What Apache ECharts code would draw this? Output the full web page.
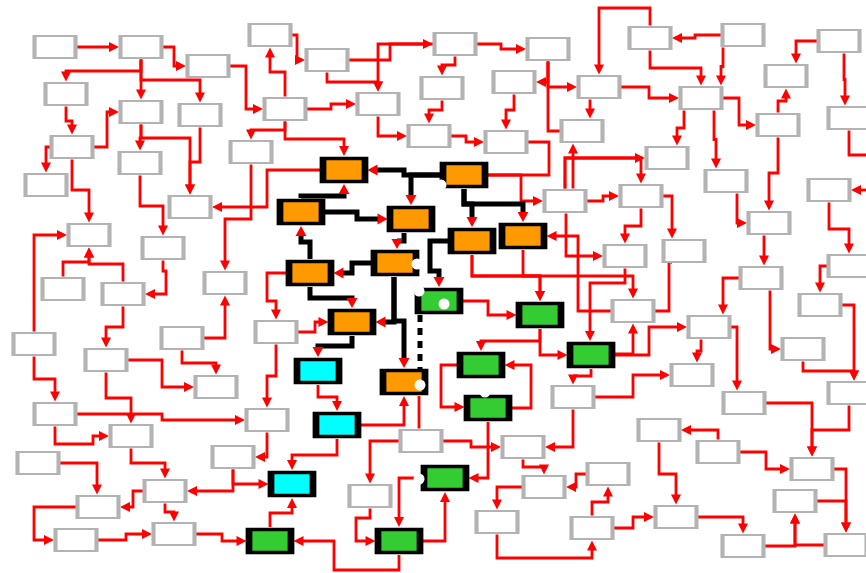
<!DOCTYPE html>
<html><head><meta charset="utf-8">
<script src="https://cdn.jsdelivr.net/npm/echarts@6/dist/echarts.min.js"></script>
<style>html,body{margin:0;padding:0;background:#fff}#c{width:866px;height:573px}</style>
</head><body><div id="c"></div>
<script>
// ---- node data ----
const nodeIds = ['G1','G2','G3','G4','G5','G6','G7','G8','G9','G10','G11','G12','G13','G14','G15','G16','G17','G18','G19','G20','G21','G22','G23','G24','G25','G26','G27','G28','G29','G30','G31','G32','G33','G34','G35','G36','G37','G38','G39','G40','G41','G42','G43','G44','G45','G46','G47','G48','G49','G50','G51','G52','G53','G54','G55','G56','G57','G58','G59','G60','G61','G62','G63','G64','G65','G66','G67','G68','G69','G70','G71','G72','G73','G74','G75','G76','G77','G78','G79','G80','G81',
 'O1','O2','O3','O4','O5','O6','O7','O8','O9','O10','N1','N2','N3','N4','N5','N6','N7','N8','C1','C2','C3','P1','P2'];
const nodeX = [55,141,208,270,327,455,548,650,743,839,66,141,200,285,378,442,514,599,701,786,849,72,140,251,429,506,582,667,778,46,190,565,641,726,829,89,163,225,625,684,769,849,63,123,761,34,182,276,633,709,820,106,216,692,803,849,55,267,573,131,421,523,659,744,38,233,718,812,165,370,544,608,98,497,592,676,795,76,174,743,846,
 344,464,301,411,472,523,395,310,352,404,439,540,591,481,488,445,270,399,318,337,292,895,895];
const nodeY = [47,47,66,35,60,44,49,38,35,41,94,112,115,109,104,88,82,87,98,76,118,147,163,152,136,142,131,158,125,185,207,201,196,181,190,235,248,283,256,251,223,266,289,294,278,344,338,332,311,327,305,360,387,375,349,393,414,420,397,436,441,447,430,403,463,457,452,469,491,496,487,474,507,522,528,517,501,540,534,546,545,
 170,175,212,219,241,236,263,273,322,382,301,315,355,365,408,478,541,541,371,425,484,155,190];
const nodeKind = 'ggggggggggggggggggggggggggggggggggggggggggggggggggggggggggggggggggggggggggggggggg' + 'oooooooooonnnnnnnnccc' + 'pp';

// ---- edges: [from, to, exit/entry sides, routing hints] ----
const redEdges = [
 ['G1','G2','RL'],['G2','G3','RL',{m:174}],['G2','G11','BT',{m:71}],['G2','G12','BT'],['G2','G13','BT',{m:80}],
 ['G11','G22','BT',{m:121}],['G22','G12','RL',{m:107}],['G22','G30','LT'],['G12','G23','BT',{m:138}],['G12','G31','BT',{m:138}],
 ['G13','G31','BT',{m:162}],['G22','G36','BT',{m:190}],['G23','G37','BT',{m:206}],['G4','G5','RL',{m:297}],['G14','G4','TB',{m:72}],
 ['G3','G14','RL',{m:246}],['G5','G6','RL',{m:390}],['G6','G15','LT'],['G5','G15','BT',{m:82}],['G14','G15','RL',{m:331}],
 ['G14','G24','BT',{m:130}],['G14','O1','BT',{m:139}],['G15','G25','BL'],['G24','G38','BT',{m:219}],['O1','G31','LR',{m:267}],
 ['G6','G7','RL',{m:501}],['G6','G16','BT',{m:65}],['G16','G25','BT',{m:110}],['G25','G26','RL',{m:466}],['G7','G17','BR'],
 ['G7','G18','BL'],['G7','G27','BL',{na:1}],['G17','G26','BT',{m:110}],['G18','G27','BT',{so:-9,to:8}],['G8','G18','TT',{m:8}],
 ['G8','G19','BT',{m:68}],['G9','G8','LR',{m:695}],['G9','G19','BT',{so:-20,to:20}],['G18','G19','RL',{m:649}],['G19','G29','RL',{m:739}],
 ['G19','G28','BT',{so:-17,to:10}],['G19','G34','BT',{so:13,to:-10}],['G29','G20','TB',{m:101}],['G10','G20','LT',{to:10}],['G10','G21','BT',{so:5,to:-4}],
 ['G21','P1','BL',{na:1}],['P2','G35','LR'],['G29','G41','BT',{m:173}],['G26','O2','RR',{m:549,na:1}],['O2','G32','RL',{m:521}],
 ['G32','G28','TL'],['G32','G33','TT',{m:158}],['G32','G27','TB',{so:8,to:-9}],['G32','G39','BL',{so:1}],['G32','G33','RL',{m:603}],
 ['G33','G39','BT',{m:226}],['G33','G40','RT',{to:-12}],['G49','G40','RL',{m:669,to:8}],['G34','G41','BL',{so:11}],['G41','G45','BT',{so:-5,to:3}],
 ['G45','G50','LT',{to:14}],['G45','G55','BL',{so:9}],['G35','G42','BT',{m:229}],['G42','G51','LT'],['G51','G56','RT',{to:5}],
 ['G55','G56','BT',{m:371,to:5}],['G50','G64','RT',{to:-7}],['G50','G54','BT',{so:-8,to:5}],['N3','G50','RL',{m:649}],['N3','G49','RB',{so:-1}],
 ['G59','G54','RL',{m:633}],['G67','G63','TR'],['G63','G76','BT',{m:474}],['G67','G68','RL',{m:766}],['G64','G68','RT'],
 ['G56','G68','BT',{m:430}],['G68','G81','RT'],['G77','G81','RT'],['G81','G77','LB'],['G80','G77','RB'],
 ['G76','G80','RT'],['G75','G76','RL',{m:633}],['G75','G72','TB',{m:502}],['G72','G71','LR',{m:576}],['G62','G71','BT',{m:467}],
 ['G71','G74','LT'],['G74','G75','BB',{m:558}],['N5','N6','BR'],['G61','G62','RL',{m:471}],['N5','N4','RR',{m:531}],
 ['G59','G62','BR'],['N2','N4','BT',{m:341}],['N2','N3','BL'],['N4','N5','LL',{m:441,to:-1}],['G61','O10','TB',{so:-2,to:15,na:1}],
 ['N6','N8','LT'],['N8','N6','RB'],['N8','N7','BR',{m:570,m2:334}],['N7','C3','TB',{m:513}],['G79','N7','RL',{m:222}],
 ['C2','C3','BT',{m:455}],['C2','O10','RB'],['C1','C2','BT',{m:397}],['G61','G70','LT'],['G70','N8','BL',{m:518,m2:356}],
 ['G48','G58','BT'],['G57','G58','RL',{m:162}],['G58','G66','BR'],['G66','C3','BL'],['G66','G69','BR'],
 ['G69','G73','LR',{m:133}],['G69','G79','BT',{m:512}],['G73','G78','LL',{m:34}],['G78','G79','RL',{m:126}],['G65','G73','RT',{to:-1}],
 ['G57','G60','BL',{m:444,m2:93}],['G60','G69','BT',{m:463}],['G52','G60','BT',{m:398}],['G46','G57','BT',{m:379}],['G52','G53','RL',{m:162}],
 ['G47','G53','BT',{m:363}],['G44','G52','BT',{m:327}],['G44','G36','TB',{m:264}],['G43','G36','TB',{m:262}],['G46','G36','TL'],
 ['G37','G44','BR',{m:271,m2:166}],['G47','G38','RB'],['G48','O9','RL',{m:315}],['O8','G48','LT',{m:267,m2:301}],
 ['O5','N2','BT',{m:276}],['O6','N2','BT',{m:276}],['O5','G49','BT',{m:276}],['G49','O6','LR',{m:578}],['N1','N2','RL',{m:488}],
 ['G39','N3','BT',{m:283,to:-1}],['N3','G59','BT',{m:376}]
];
const blackEdges = [
 ['O2','O1','LR',{m:404}],['O2','O4','LT'],['O3','O1','TB',{m:196}],['O3','O4','RL',{m:357}],['O4','O7','BT',{so:-7,to:2}],
 ['O7','O8','LR',{m:352}],['O8','O9','BT',{m:298}],['O8','O3','TB',{m:242}],['O7','O9','BR',{so:-1}],['O7','O10','BT',{m:321,so:-1}],
 ['O9','C1','BT',{m:346}],['O2','O5','BT',{m:204}],['O2','O6','BT',{m:204}],['O5','N1','LT',{m:430,m2:271}],
 ['N1','O10','BR',{so:-19,to:-8,dash:1}]
];
// white round marks drawn over the diagram
const whiteDotX = [441,417,419,444,420,485,419];
const whiteDotY = [185,264,291,304,385,392,479];

// ---- styles ----
const kindStyle = {
 g:{fill:'#ffffff',stroke:'#b3b3b3',bw:3,size:[41,22]},
 o:{fill:'#ff9900',stroke:'#000000',bw:5,size:[42,23]},
 n:{fill:'#33cc33',stroke:'#000000',bw:5,size:[42,23]},
 c:{fill:'#00ffff',stroke:'#000000',bw:5,size:[42,23]}
};
const nodes = {};
nodeIds.forEach((id,i)=>{nodes[id]={x:nodeX[i],y:nodeY[i],kind:nodeKind[i]};});

function side(n,s,off){
 const hw = n.kind==='g'?22:23.5, hh = n.kind==='g'?12.5:14;
 if(s==='R') return [n.x+hw,n.y+off];
 if(s==='L') return [n.x-hw,n.y+off];
 if(s==='T') return [n.x+off,n.y-hh];
 return [n.x+off,n.y+hh];
}
function route(e){
 const [f,t,sd,o0]=e; const o=o0||{};
 const a=nodes[f], b=nodes[t];
 const p0=side(a,sd[0],o.so||0), p3=side(b,sd[1],o.to||0);
 const h0='LR'.includes(sd[0]), h1='LR'.includes(sd[1]);
 if(h0&&h1){
  let m=o.m;
  if(m==null){ if(sd==='RR') m=Math.max(p0[0],p3[0])+12; else if(sd==='LL') m=Math.min(p0[0],p3[0])-12; else m=(p0[0]+p3[0])/2; }
  return [p0,[m,p0[1]],[m,p3[1]],p3];
 }
 if(!h0&&!h1){
  let m=o.m;
  if(m==null){ if(sd==='BB') m=Math.max(p0[1],p3[1])+12; else if(sd==='TT') m=Math.min(p0[1],p3[1])-12; else m=(p0[1]+p3[1])/2; }
  return [p0,[p0[0],m],[p3[0],m],p3];
 }
 if(h0){
  if(o.m!=null&&o.m2!=null) return [p0,[o.m,p0[1]],[o.m,o.m2],[p3[0],o.m2],p3];
  return [p0,[p3[0],p0[1]],p3];
 }
 if(o.m!=null&&o.m2!=null) return [p0,[p0[0],o.m],[o.m2,o.m],[o.m2,p3[1]],p3];
 return [p0,[p0[0],p3[1]],p3];
}
const allEdges = redEdges.map(e=>({e,black:false})).concat(blackEdges.map(e=>({e,black:true})));

function renderEdge(params, api){
 const item = allEdges[params.dataIndex];
 const o = item.e[3]||{};
 const raw = route(item.e).map(p=>api.coord(p));
 const pts=[raw[0]];
 for(let i=1;i<raw.length;i++){const q=pts[pts.length-1]; if(Math.abs(raw[i][0]-q[0])>0.01||Math.abs(raw[i][1]-q[1])>0.01) pts.push(raw[i]);}
 const children=[];
 const lw = item.black?5:2.8;
 const col = item.black?'#000000':'#ff0000';
 const dash = o.dash?[7,6]:null;
 if(!o.na && pts.length>=2){
  const tip=pts[pts.length-1], prev=pts[pts.length-2];
  let dx=tip[0]-prev[0], dy=tip[1]-prev[1]; const L=Math.hypot(dx,dy)||1; dx/=L; dy/=L;
  const AL=10, AW=item.black?5.5:5;
  const bx=tip[0]-dx*AL, by=tip[1]-dy*AL;
  const line=pts.slice(0,-1).concat([[bx+dx*1,by+dy*1]]);
  children.push({type:'polyline',shape:{points:line},style:{stroke:col,lineWidth:lw,fill:null,lineJoin:'miter',lineDash:dash}});
  children.push({type:'polygon',shape:{points:[tip,[bx-dy*AW,by+dx*AW],[bx+dy*AW,by-dx*AW]]},style:{fill:'#ff0000'}});
 } else {
  children.push({type:'polyline',shape:{points:pts},style:{stroke:col,lineWidth:lw,fill:null,lineJoin:'miter',lineDash:dash}});
 }
 return {type:'group',children};
}

const nodeData = nodeIds.map((id,i)=>({id, kind:nodeKind[i], value:[nodeX[i],nodeY[i]]})).filter(d=>d.kind!=='p').map(d=>{
 const s=kindStyle[d.kind];
 return {value:d.value, symbolSize:s.size, itemStyle:{color:s.fill,borderColor:s.stroke,borderWidth:s.bw,opacity:1}};
});

const chart = echarts.init(document.getElementById('c'),null,{renderer:'canvas'});
chart.setOption({
 animation:false,
 backgroundColor:'#ffffff',
 grid:{left:0,right:0,top:0,bottom:0},
 xAxis:{type:'value',min:0,max:866,show:false},
 yAxis:{type:'value',min:0,max:573,inverse:true,show:false},
 series:[
  {type:'custom',coordinateSystem:'cartesian2d',data:allEdges.map((d,i)=>[i]),renderItem:renderEdge,z:2,silent:true},
  {type:'scatter',symbol:'rect',data:nodeData,z:3,silent:true,itemStyle:{opacity:1}},
  {type:'scatter',symbol:'circle',symbolSize:11,data:whiteDotX.map((x,i)=>[x,whiteDotY[i]]),z:4,silent:true,itemStyle:{color:'#ffffff',opacity:1}}
 ]
});
</script></body></html>
